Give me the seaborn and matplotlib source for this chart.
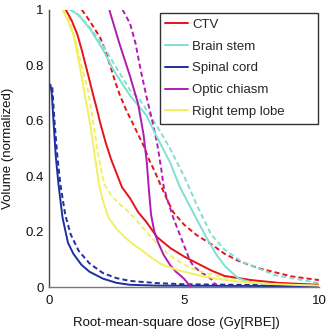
import numpy as np
import pandas as pd
import matplotlib
matplotlib.use("Agg")
import matplotlib.pyplot as plt
import seaborn as sns
from matplotlib.lines import Line2D
from matplotlib.patches import Rectangle

structures = ["CTV", "Brain stem", "Spinal cord", "Optic chiasm", "Right temp lobe"]
colors = ["#e8121c", "#7fe0d2", "#1f2fa0", "#b01cb0", "#f2f060"]

# CTV
ctv_solid_x = [0.62, 0.84, 1.05, 1.21, 1.46, 1.64, 1.75, 1.9, 2.1, 2.3, 2.5, 2.7, 3.0, 3.3, 3.6, 4.0, 4.5, 5.0, 5.5, 6.0, 6.5, 7.5, 8.5, 10.0]
ctv_solid_y = [1.0, 0.96, 0.91, 0.855, 0.76, 0.69, 0.65, 0.59, 0.52, 0.46, 0.41, 0.36, 0.32, 0.27, 0.235, 0.18, 0.14, 0.11, 0.085, 0.06, 0.04, 0.025, 0.015, 0.008]
ctv_dash_x = [1.21, 1.5, 1.89, 2.1, 2.26, 2.45, 2.63, 2.85, 3.1, 3.3, 3.5, 3.7, 3.9, 4.1, 4.35, 4.6, 5.0, 5.47, 6.0, 6.5, 7.0, 7.75, 8.5, 9.0, 10.0]
ctv_dash_y = [1.0, 0.96, 0.90, 0.85, 0.80, 0.74, 0.69, 0.64, 0.59, 0.55, 0.51, 0.46, 0.42, 0.375, 0.32, 0.27, 0.225, 0.187, 0.155, 0.12, 0.095, 0.068, 0.05, 0.038, 0.025]

# Brain stem
bs_solid_x = [0.78, 1.1, 1.52, 2.0, 2.4, 3.0, 3.6, 4.0, 4.48, 4.85, 5.33, 5.84, 6.21, 6.52, 7.0, 7.5, 8.5, 10.0]
bs_solid_y = [1.0, 0.98, 0.93, 0.855, 0.78, 0.69, 0.62, 0.54, 0.45, 0.36, 0.27, 0.177, 0.115, 0.075, 0.032, 0.015, 0.008, 0.004]
bs_dash_x = [0.78, 1.1, 1.52, 2.0, 2.5, 3.0, 3.37, 4.0, 4.48, 5.0, 5.5, 6.0, 6.5, 7.14, 8.37, 10.0]
bs_dash_y = [1.0, 0.98, 0.935, 0.87, 0.79, 0.71, 0.674, 0.58, 0.50, 0.40, 0.29, 0.19, 0.135, 0.091, 0.043, 0.014]

# Spinal cord
sc_solid_x = [0.05, 0.1, 0.17, 0.25, 0.35, 0.5, 0.7, 0.9, 1.2, 1.5, 2.0, 2.5, 3.0, 4.0, 10.0]
sc_solid_y = [0.73, 0.70, 0.59, 0.47, 0.37, 0.25, 0.16, 0.12, 0.08, 0.055, 0.03, 0.015, 0.008, 0.005, 0.003]
sc_dash_x = [0.12, 0.2, 0.3, 0.42, 0.6, 0.8, 1.1, 1.5, 2.0, 2.5, 3.0, 4.0, 5.0, 10.0]
sc_dash_y = [0.72, 0.60, 0.48, 0.37, 0.26, 0.19, 0.13, 0.085, 0.05, 0.032, 0.022, 0.014, 0.01, 0.005]

# Optic chiasm
oc_solid_x = [2.23, 2.6, 3.0, 3.3, 3.5, 3.62, 3.7, 3.78, 3.9, 4.04, 4.25, 4.48, 4.7, 4.85, 5.0, 5.15, 5.25]
oc_solid_y = [1.0, 0.88, 0.76, 0.66, 0.55, 0.45, 0.35, 0.26, 0.20, 0.16, 0.115, 0.08, 0.055, 0.043, 0.03, 0.012, 0.004]
oc_dash_x = [2.72, 3.0, 3.2, 3.4, 3.6, 3.8, 4.0, 4.15, 4.25, 4.4, 4.6, 4.8, 5.0, 5.2, 5.35, 5.6, 5.85, 6.05, 6.15, 6.25]
oc_dash_y = [1.0, 0.95, 0.88, 0.78, 0.69, 0.61, 0.52, 0.43, 0.36, 0.31, 0.25, 0.20, 0.15, 0.10, 0.075, 0.055, 0.04, 0.025, 0.01, 0.003]

# Right temporal lobe
tl_solid_x = [0.5, 0.7, 0.9, 1.15, 1.33, 1.52, 1.70, 1.85, 2.0, 2.2, 2.5, 2.8, 3.1, 3.4, 3.8, 4.2, 4.8, 5.5, 6.2, 7.0, 8.0, 9.0, 10.0]
tl_solid_y = [1.0, 0.96, 0.91, 0.79, 0.69, 0.59, 0.47, 0.37, 0.31, 0.25, 0.21, 0.18, 0.155, 0.135, 0.105, 0.08, 0.06, 0.043, 0.03, 0.02, 0.012, 0.008, 0.005]
tl_dash_x = [0.55, 0.75, 0.95, 1.2, 1.46, 1.64, 1.83, 2.05, 2.3, 2.6, 2.9, 3.2, 3.6, 4.1, 4.6, 5.2, 5.8, 6.5, 7.5, 8.5, 10.0]
tl_dash_y = [1.0, 0.96, 0.90, 0.80, 0.70, 0.59, 0.47, 0.37, 0.33, 0.30, 0.275, 0.245, 0.20, 0.145, 0.105, 0.07, 0.05, 0.035, 0.022, 0.014, 0.008]

x_ticks = [0, 5, 10]
x_tick_labels = ["0", "5", "10"]
y_ticks = [0, 0.2, 0.4, 0.6, 0.8, 1.0]
y_tick_labels = ["0", "0.2", "0.4", "0.6", "0.8", "1"]

series = {
    "CTV": (ctv_solid_x, ctv_solid_y, ctv_dash_x, ctv_dash_y),
    "Brain stem": (bs_solid_x, bs_solid_y, bs_dash_x, bs_dash_y),
    "Spinal cord": (sc_solid_x, sc_solid_y, sc_dash_x, sc_dash_y),
    "Optic chiasm": (oc_solid_x, oc_solid_y, oc_dash_x, oc_dash_y),
    "Right temp lobe": (tl_solid_x, tl_solid_y, tl_dash_x, tl_dash_y),
}

rows = []
for name, (sx, sy, dx, dy) in series.items():
    for i, (a, b) in enumerate(zip(sx, sy)):
        rows.append((name, "solid", i, a, b))
    for i, (a, b) in enumerate(zip(dx, dy)):
        rows.append((name, "dashed", i, a, b))
df = pd.DataFrame(rows, columns=["structure", "plan", "order", "dose", "volume"])

sns.set_style("white")
plt.rcParams["font.family"] = ["Liberation Sans", "DejaVu Sans"]

fig = plt.figure(figsize=(3.27, 3.32), dpi=100)
ax = fig.add_axes([0.15, 0.1355, 0.8255, 0.8355])

palette = dict(zip(structures, colors))
for plan, dash in [("dashed", (2.6, 1.6)), ("solid", "")]:
    sub = df[df["plan"] == plan]
    sns.lineplot(data=sub, x="dose", y="volume", hue="structure", units="structure",
                 palette=palette, estimator=None, sort=False, legend=False,
                 lw=1.4, ax=ax, dashes=False)
    if dash:
        for ln in ax.get_lines()[-len(structures):]:
            ln.set_dashes(dash)

ax.set_xlim(0, 10)
ax.set_ylim(0, 1)
ax.set_xticks(x_ticks)
ax.set_xticklabels(x_tick_labels)
ax.set_yticks(y_ticks)
ax.set_yticklabels(y_tick_labels)
ax.tick_params(direction="in", length=4, width=1, color="#444444", labelsize=9.5,
               labelcolor="#111111", pad=4)
ax.tick_params(axis="x", pad=6)
for s in ["top", "right"]:
    ax.spines[s].set_visible(False)
ax.spines["left"].set_color("#444444")
ax.spines["bottom"].set_color("#777777")
for s in ["left", "bottom"]:
    ax.spines[s].set_linewidth(1.0)

ax.set_xlabel("Root-mean-square dose (Gy[RBE])", fontsize=9.5, color="#111111")
ax.xaxis.set_label_coords(0.472, -0.108)
ax.set_ylabel("Volume (normalized)", fontsize=9.5, color="#111111", labelpad=8)

# legend frame (wider than its contents, as in the original)
frame = Rectangle((0.411, 0.587), 0.585, 0.401, transform=ax.transAxes,
                  facecolor="white", edgecolor="#333333", lw=1.0, zorder=5, clip_on=False)
ax.add_patch(frame)
handles = [Line2D([], [], color=c, lw=1.4) for c in colors]
leg = ax.legend(handles, structures, loc="upper left", bbox_to_anchor=(0.4296, 0.967),
                borderaxespad=0, borderpad=0, fontsize=9.5, handlelength=1.75,
                handletextpad=0.3, labelspacing=0.72, frameon=False)
leg.set_zorder(6)

fig.savefig("out.png", dpi=100)
